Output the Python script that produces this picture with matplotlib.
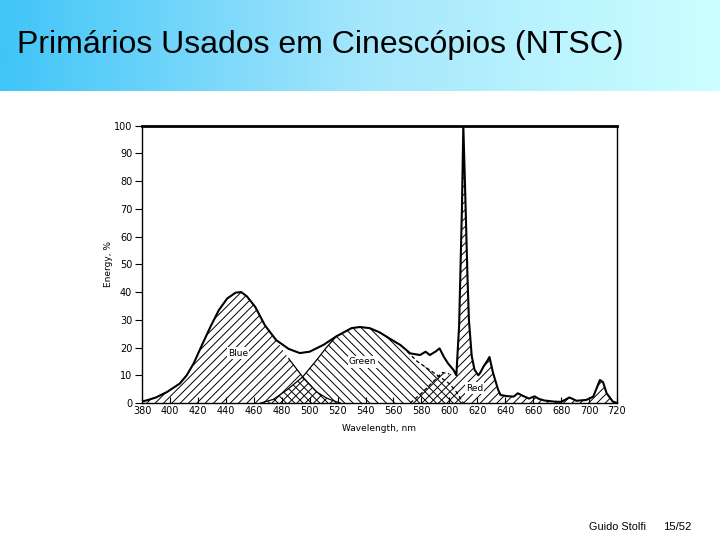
import numpy as np
import matplotlib
matplotlib.use("Agg")
import matplotlib.pyplot as plt
from matplotlib.colors import LinearSegmentedColormap

# ---------------- data ----------------
title = "Primários Usados em Cinescópios (NTSC)"
footer_author = "Guido Stolfi"
footer_page = "15/52"
xlabel = "Wavelength, nm"
ylabel = "Energy, %"
x_ticks = [380, 400, 420, 440, 460, 480, 500, 520, 540, 560, 580, 600, 620, 640, 660, 680, 700, 720]
y_ticks = [0, 10, 20, 30, 40, 50, 60, 70, 80, 90, 100]

# total emission (envelope)
env_wl = [380, 385, 390, 398, 407, 412, 417, 423, 429, 435, 441, 447, 451, 455, 461, 468, 476,
          485, 493, 500, 510, 519, 530, 536, 543, 550, 558, 565, 572, 579, 583, 586, 590, 593,
          596, 599, 603, 605, 607, 609, 610, 611.4, 613, 614, 616, 618, 620.7, 622, 624.5, 627.5,
          628.7, 631.3, 634.9, 636.6, 641, 646, 649, 653, 657, 661, 664, 668, 675, 680, 686,
          691, 698, 703, 707.8, 710, 712.6, 717, 720]
env_e = [0.5, 1.2, 2.0, 4.0, 7.0, 10.0, 14.3, 21.0, 27.5, 33.5, 37.7, 39.8, 40.0, 38.5, 34.7, 28.0, 22.7,
         19.5, 18.0, 18.5, 21.0, 24.0, 27.0, 27.4, 27.0, 25.5, 23.0, 20.9, 17.9, 17.3, 18.5, 17.3, 18.5, 19.7,
         16.7, 14.3, 11.9, 10.0, 28.0, 70.0, 100.0, 75.0, 45.0, 30.0, 17.0, 12.0, 10.0, 10.8, 13.2, 15.5,
         16.6, 10.8, 4.8, 2.9, 2.5, 2.3, 3.5, 2.5, 1.6, 2.4, 1.5, 0.9, 0.5, 0.4, 2.0,
         0.8, 1.1, 2.3, 8.3, 7.5, 3.5, 0.5, 0.0]

# blue phosphor: envelope up to 476 nm, then its own tail
blue_tail_wl = [485, 495, 505, 512, 517, 522]
blue_tail_e = [16.0, 9.4, 4.0, 1.8, 0.8, 0.0]

# green phosphor: rising edge, envelope segment, falling edge
green_rise_wl = [465, 474, 484, 495, 505, 512, 519]
green_rise_e = [0.0, 1.3, 4.8, 9.4, 15.5, 20.0, 24.0]
green_fall_wl = [570, 577, 590, 600, 605, 610]
green_fall_e = [18.5, 15.0, 10.5, 7.0, 4.0, 0.0]

# red phosphor: rising edge, then envelope from 605 nm
red_rise_wl = [572, 580, 588, 595, 600]
red_rise_e = [0.0, 3.5, 7.5, 11.0, 10.5]

labels = ["Blue", "Green", "Red"]
label_pos = [(448.7, 18.0), (538.0, 14.8), (618.0, 5.4)]

# ---------------- build component curves ----------------
env_wl_a = np.array(env_wl)
env_e_a = np.array(env_e)

m = env_wl_a <= 476
blue_wl = np.concatenate([env_wl_a[m], blue_tail_wl])
blue_e = np.concatenate([env_e_a[m], blue_tail_e])

m = (env_wl_a >= 530) & (env_wl_a <= 565)
green_wl = np.concatenate([green_rise_wl, env_wl_a[m], green_fall_wl])
green_e = np.concatenate([green_rise_e, env_e_a[m], green_fall_e])

m = env_wl_a >= 605
red_wl = np.concatenate([red_rise_wl, env_wl_a[m]])
red_e = np.concatenate([red_rise_e, env_e_a[m]])

# ---------------- figure ----------------
plt.rcParams['hatch.linewidth'] = 0.7
fig = plt.figure(figsize=(7.2, 5.4), dpi=100)
fig.patch.set_facecolor("white")

# title banner with gradient
bax = fig.add_axes([0, 1 - 91 / 540, 1, 91 / 540])
cmap = LinearSegmentedColormap.from_list("banner", ["#40c5f8", "#a4e6fc", "#ccffff"])
grad = np.linspace(0, 1, 512).reshape(1, -1)
bax.imshow(grad, aspect="auto", cmap=cmap, extent=[0, 1, 0, 1])
bax.set_xlim(0, 1)
bax.set_ylim(0, 1)
bax.axis("off")
fig.text(17 / 720, 1 - 45 / 540, title, fontsize=23, family="Liberation Sans",
         va="center", ha="left", color="black")

# footer
fig.text(589 / 720, 1 - 527 / 540, footer_author, fontsize=7.8, family="Liberation Sans",
         va="center", ha="left")
fig.text(663 / 720, 1 - 527 / 540, footer_page, fontsize=8.2, family="Liberation Sans",
         va="center", ha="left")

# main chart
ax = fig.add_axes([142 / 720, 1 - 403 / 540, 475 / 720, 277.3 / 540])
ax.set_xlim(380, 720)
ax.set_ylim(0, 100)

ax.fill_between(blue_wl, 0, blue_e, facecolor="none", edgecolor="black", hatch="////", linewidth=0)
ax.fill_between(green_wl, 0, green_e, facecolor="none", edgecolor="black", hatch="\\\\\\\\", linewidth=0)
ax.fill_between(red_wl, 0, red_e, facecolor="none", edgecolor="black", hatch="////", linewidth=0)

# component edges below the envelope
ax.plot(blue_tail_wl, blue_tail_e, color="black", lw=0.9)
ax.plot(green_rise_wl, green_rise_e, color="black", lw=0.9)
ax.plot(green_fall_wl, green_fall_e, color="black", lw=0.9, ls=(0, (3, 2)))
ax.plot(red_rise_wl, red_rise_e, color="black", lw=0.9, ls=(0, (3, 2)))

# envelope
ax.plot(env_wl, env_e, color="black", lw=1.5, solid_joinstyle="round")

for txt, (x, y) in zip(labels, label_pos):
    ax.text(x, y, txt, fontsize=6.5, ha="center", va="center",
            bbox=dict(boxstyle="square,pad=0.15", fc="white", ec="none"))

ax.set_xticks(x_ticks)
ax.set_yticks(y_ticks)
ax.tick_params(axis="x", direction="in", length=4, labelsize=7, pad=2)
ax.tick_params(axis="y", direction="out", length=5, labelsize=7, pad=2)
ax.set_xlabel(xlabel, fontsize=6.5)
ax.set_ylabel(ylabel, fontsize=6.5)
ax.yaxis.set_label_coords(-0.061, 0.5)
ax.xaxis.set_label_coords(0.5, -0.075)
for s in ["left", "right", "bottom"]:
    ax.spines[s].set_linewidth(1.0)
ax.spines["top"].set_linewidth(2.0)

fig.savefig("out.png", dpi=100)
